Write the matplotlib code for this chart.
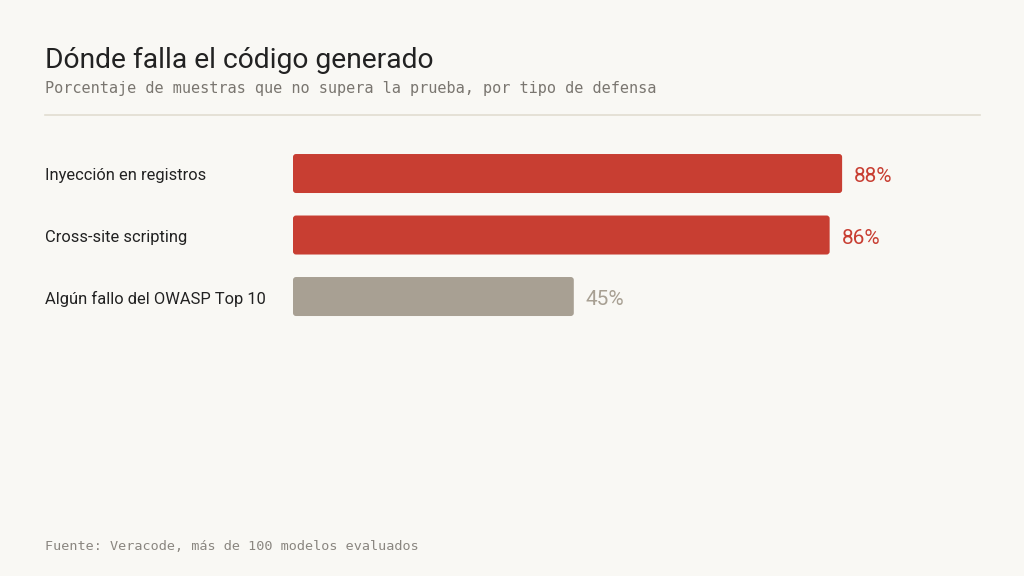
import matplotlib
matplotlib.use('Agg')
import matplotlib.pyplot as plt
import matplotlib.transforms as mtransforms
from matplotlib.patches import FancyBboxPatch
from matplotlib.lines import Line2D

# Data
categorias = ['Inyección en registros', 'Cross-site scripting', 'Algún fallo del OWASP Top 10']
valores = [88, 86, 45]
colores = ['#C83E32', '#C83E32', '#A8A093']

titulo = 'Dónde falla el código generado'
subtitulo = 'Porcentaje de muestras que no supera la prueba, por tipo de defensa'
fuente = 'Fuente: Veracode, más de 100 modelos evaluados'

# Style
bg = '#F9F8F4'
W, H = 1024, 576
fig = plt.figure(figsize=(W / 100, H / 100), dpi=100, facecolor=bg)


def fx(px):
    return px / W


def fy(py):
    return 1 - py / H


# axes placed so that 0..100 spans 293px .. 917px
ax_top, ax_bot = 140, 330
ax = fig.add_axes([fx(293), fy(ax_bot), fx(917 - 293), (ax_bot - ax_top) / H])
ax.set_facecolor(bg)
ax.set_xlim(0, 100)
step = 61.5
ax.set_ylim(-0.545 + (ax_bot - ax_top) / step, -0.545)
ax.axis('off')

bar_h = 39 / step
px_x = (917 - 293) / 100
rad = 3 / px_x
lab_tr = mtransforms.blended_transform_factory(fig.transFigure, ax.transData)
for i, (v, c) in enumerate(zip(valores, colores)):
    p = FancyBboxPatch((0, i - bar_h / 2), v, bar_h,
                       boxstyle='round,pad=0,rounding_size=%f' % rad,
                       mutation_aspect=px_x / step,
                       facecolor=c, edgecolor='none')
    ax.add_patch(p)
    ax.text(v + 12 / px_x, i + 0.05, '%d%%' % v, color=c, fontsize=15,
            family='Roboto', va='center', ha='left')
    fig.text(fx(45), i + 0.04, categorias[i], fontsize=11.9, family='Roboto',
             color='#222222', va='center', ha='left', transform=lab_tr)

fig.text(fx(45), fy(60), titulo, fontsize=20.3, family='Roboto', color='#222222',
         va='center', ha='left')
fig.text(fx(45), fy(89), subtitulo, fontsize=11.0, family='DejaVu Sans Mono',
         color='#7A7670', va='center', ha='left')
fig.add_artist(Line2D([fx(45), fx(980)], [fy(114.5), fy(114.5)],
                      color='#E2DDD1', lw=1.2, transform=fig.transFigure))
fig.text(fx(45), fy(546), fuente, fontsize=9.7, family='DejaVu Sans Mono',
         color='#8A8680', va='center', ha='left')

fig.savefig('out.png', dpi=100, facecolor=bg)
